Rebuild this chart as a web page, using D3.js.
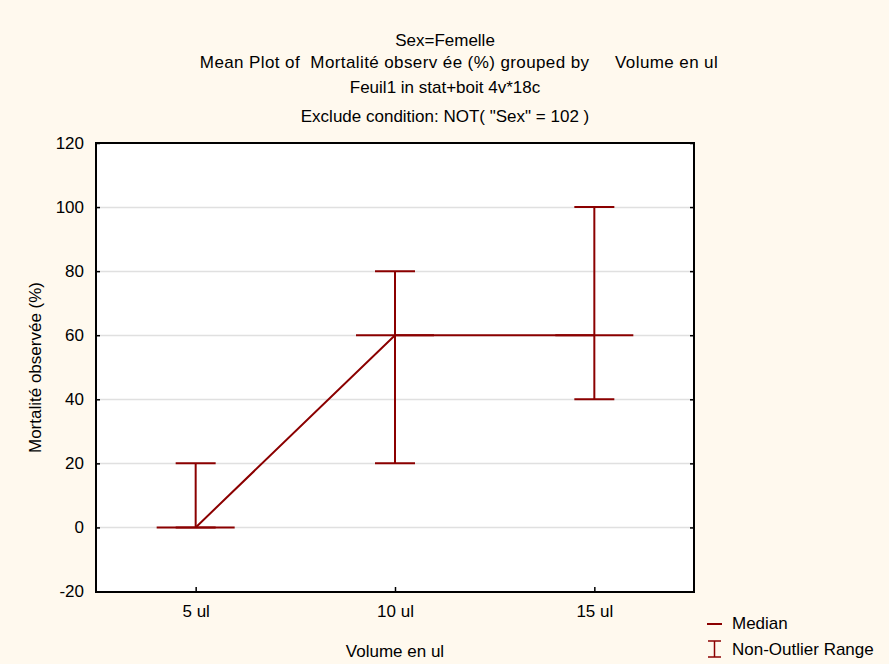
<!DOCTYPE html>
<html>
<head>
<meta charset="utf-8">
<script src="https://cdn.jsdelivr.net/npm/d3@7"></script>
<style>
  body { margin: 0; background: #fff9ee; }
  text { font-family: "Liberation Sans", Arial, sans-serif; white-space: pre; }
</style>
</head>
<body>
<div id="chart"></div>
<script>
const w = 889;
const h = 664;
const margin = {top: 143, right: 195, bottom: 72, left: 96};
const fs = 17;

const categories = ["5 ul", "10 ul", "15 ul"];
const medians = [0, 60, 60];
const rangeLow = [0, 20, 40];
const rangeHigh = [20, 80, 100];
const yTicks = [-20, 0, 20, 40, 60, 80, 100, 120];
const titles = [
  "Sex=Femelle",
  "Mean Plot of  Mortalité observ ée (%) grouped by     Volume en ul",
  "Feuil1 in stat+boit 4v*18c",
  "Exclude condition: NOT( \"Sex\" = 102 )"
];

const red = "#8b0000";

const svg = d3.select("#chart")
  .append("svg")
  .attr("width", w)
  .attr("height", h);

svg.append("rect")
  .attr("width", w).attr("height", h)
  .attr("fill", "#fff9ee");

const xScale = d3.scalePoint()
  .domain(categories)
  .range([margin.left, w - margin.right])
  .padding(0.5);

const yScale = d3.scaleLinear()
  .domain([-20, 120])
  .range([h - margin.bottom - 0.5, margin.top]);

// plot area
svg.append("rect")
  .attr("x", margin.left)
  .attr("y", margin.top)
  .attr("width", w - margin.right - margin.left)
  .attr("height", h - margin.bottom - margin.top)
  .attr("fill", "#ffffff");

// gridlines
svg.append("g")
  .selectAll("line")
  .data(yTicks.filter(d => d > -20 && d < 120))
  .enter()
  .append("line")
  .attr("x1", margin.left)
  .attr("x2", w - margin.right)
  .attr("y1", d => Math.round(yScale(d)) + 0.5)
  .attr("y2", d => Math.round(yScale(d)) + 0.5)
  .attr("stroke", "#e0e0e0")
  .attr("stroke-width", 1.5);

// axes
const yAxis = d3.axisLeft(yScale)
  .tickValues(yTicks)
  .tickSize(-4)
  .tickPadding(12)
  .tickFormat(d => String(d));

const gy = svg.append("g")
  .attr("transform", "translate(" + margin.left + ",0)")
  .call(yAxis);

const yAxisR = d3.axisRight(yScale)
  .tickValues(yTicks)
  .tickSize(-4)
  .tickFormat("");

const gyr = svg.append("g")
  .attr("transform", "translate(" + (w - margin.right) + ",0)")
  .call(yAxisR);

const xAxis = d3.axisBottom(xScale)
  .tickSize(-5)
  .tickPadding(13);

const gx = svg.append("g")
  .attr("transform", "translate(0," + (h - margin.bottom) + ")")
  .call(xAxis);

[gy, gyr, gx].forEach(g => {
  g.select(".domain").remove();
  g.selectAll(".tick line").attr("stroke", "#000").attr("stroke-width", 1.5);
  g.selectAll("text").attr("font-size", fs).attr("fill", "#000")
    .attr("font-family", "'Liberation Sans', Arial, sans-serif");
});

// frame
svg.append("rect")
  .attr("x", margin.left)
  .attr("y", margin.top)
  .attr("width", w - margin.right - margin.left)
  .attr("height", h - margin.bottom - margin.top)
  .attr("fill", "none")
  .attr("stroke", "#000")
  .attr("stroke-width", 2);

// connecting line through medians
const line = d3.line()
  .x((d, i) => xScale(categories[i]))
  .y(d => yScale(d));

svg.append("path")
  .datum(medians)
  .attr("d", line)
  .attr("fill", "none")
  .attr("stroke", red)
  .attr("stroke-width", 2);

// non-outlier ranges
const bars = svg.append("g");
categories.forEach((c, i) => {
  const x = xScale(c);
  bars.append("line")
    .attr("x1", x).attr("x2", x)
    .attr("y1", yScale(rangeLow[i])).attr("y2", yScale(rangeHigh[i]))
    .attr("stroke", red).attr("stroke-width", 2);
  [rangeLow[i], rangeHigh[i]].forEach(v => {
    bars.append("line")
      .attr("x1", x - 20).attr("x2", x + 20)
      .attr("y1", yScale(v)).attr("y2", yScale(v))
      .attr("stroke", red).attr("stroke-width", 2);
  });
  bars.append("line")
    .attr("x1", x - 39).attr("x2", x + 39)
    .attr("y1", yScale(medians[i])).attr("y2", yScale(medians[i]))
    .attr("stroke", red).attr("stroke-width", 2);
});

// titles
svg.selectAll(".title")
  .data(titles)
  .enter()
  .append("text")
  .attr("class", "title")
  .attr("x", (d, i) => i === 1 ? 459 : 445)
  .attr("y", (d, i) => [46, 68, 93, 122][i])
  .attr("text-anchor", "middle")
  .attr("font-size", fs)
  .attr("letter-spacing", (d, i) => i === 1 ? 0.4 : 0)
  .text(d => d);

// axis titles
svg.append("text")
  .attr("x", xScale("10 ul"))
  .attr("y", 657)
  .attr("text-anchor", "middle")
  .attr("font-size", fs)
  .text("Volume en ul");

svg.append("text")
  .attr("transform", "translate(41," + ((margin.top + h - margin.bottom) / 2) + ") rotate(-90)")
  .attr("text-anchor", "middle")
  .attr("font-size", fs)
  .text("Mortalité observée (%)");

// legend
const lg = svg.append("g");
lg.append("line")
  .attr("x1", 707).attr("x2", 722).attr("y1", 624).attr("y2", 624)
  .attr("stroke", red).attr("stroke-width", 2);
lg.append("text").attr("x", 732).attr("y", 629).attr("font-size", fs).text("Median");
lg.append("line").attr("x1", 714.5).attr("x2", 714.5).attr("y1", 641).attr("y2", 657)
  .attr("stroke", red).attr("stroke-width", 1.5);
[641, 657].forEach(y => {
  lg.append("line").attr("x1", 708).attr("x2", 721).attr("y1", y).attr("y2", y)
    .attr("stroke", red).attr("stroke-width", 1.5);
});
lg.append("text").attr("x", 732).attr("y", 655).attr("font-size", fs).text("Non-Outlier Range");
</script>
</body>
</html>
